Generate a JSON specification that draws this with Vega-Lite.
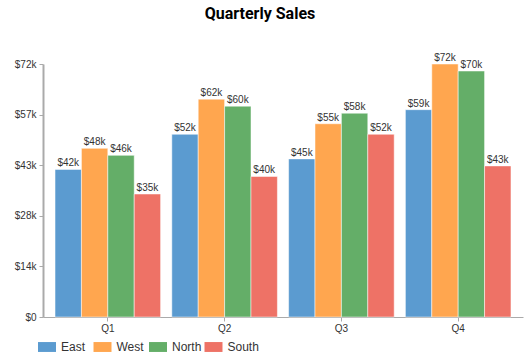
{
  "$schema": "https://vega.github.io/schema/vega-lite/v6.json",
  "width": 480,
  "height": 253,
  "autosize": {"type": "none"},
  "padding": {"left": 43, "top": 64, "right": 9, "bottom": 38},
  "title": {"text": "Quarterly Sales", "fontSize": 16, "fontWeight": "bold", "font": "Roboto", "color": "#000", "offset": 31, "anchor": "middle", "dx": -23},
  "config": {
    "view": {"stroke": null},
    "font": "Liberation Sans",
    "axis": {"labelFont": "Liberation Sans", "labelColor": "#333", "labelFontSize": 10, "domainColor": "#aaa", "tickColor": "#aaa", "grid": false, "title": null}
  },
  "data": {"values": [
    {"quarter": "Q1", "region": "East", "sales": 42000},
    {"quarter": "Q1", "region": "West", "sales": 48000},
    {"quarter": "Q1", "region": "North", "sales": 46000},
    {"quarter": "Q1", "region": "South", "sales": 35000},
    {"quarter": "Q2", "region": "East", "sales": 52000},
    {"quarter": "Q2", "region": "West", "sales": 62000},
    {"quarter": "Q2", "region": "North", "sales": 60000},
    {"quarter": "Q2", "region": "South", "sales": 40000},
    {"quarter": "Q3", "region": "East", "sales": 45000},
    {"quarter": "Q3", "region": "West", "sales": 55000},
    {"quarter": "Q3", "region": "North", "sales": 58000},
    {"quarter": "Q3", "region": "South", "sales": 52000},
    {"quarter": "Q4", "region": "East", "sales": 59000},
    {"quarter": "Q4", "region": "West", "sales": 72000},
    {"quarter": "Q4", "region": "North", "sales": 70000},
    {"quarter": "Q4", "region": "South", "sales": 43000}
  ]},
  "encoding": {
    "x": {"field": "quarter", "type": "nominal", "scale": {"paddingInner": 0.096, "paddingOuter": 0.103},
          "axis": {"labelAngle": 0, "ticks": true, "tickSize": 4, "labelPadding": 2, "domainWidth": 1}},
    "xOffset": {"field": "region", "type": "nominal", "sort": ["East", "West", "North", "South"], "scale": {"paddingInner": 0, "paddingOuter": 0}},
    "y": {"field": "sales", "type": "quantitative", "scale": {"domain": [0, 72000], "nice": false},
          "axis": {"values": [0, 14400, 28800, 43200, 57600, 72000], "labelExpr": "'$' + (datum.value == 0 ? '0' : floor(datum.value/1000) + 'k')", "tickSize": 4, "labelPadding": 3, "domainWidth": 2}}
  },
  "layer": [
    {
      "mark": {"type": "bar", "stroke": "white", "strokeWidth": 0.5},
      "encoding": {
        "color": {"field": "region", "type": "nominal", "sort": ["East", "West", "North", "South"],
                  "scale": {"domain": ["East", "West", "North", "South"], "range": ["#5b9bd0", "#ffa64f", "#64ae68", "#ee7266"]},
                  "legend": {"title": null, "orient": "none", "legendX": -5, "legendY": 274, "direction": "horizontal", "gridAlign": "all",
                             "symbolType": "M-1,-0.55H1V0.55H-1Z", "symbolSize": 324, "symbolStrokeWidth": 0, "symbolOpacity": 1,
                             "labelFontSize": 12, "labelColor": "#333", "labelFont": "Liberation Sans", "columnPadding": 0.5, "labelOffset": 5}}
      }
    },
    {
      "mark": {"type": "text", "baseline": "bottom", "dy": -1, "fontSize": 10, "color": "#333"},
      "encoding": {"text": {"field": "sales", "type": "quantitative", "format": "$.2s"}}
    }
  ]
}
